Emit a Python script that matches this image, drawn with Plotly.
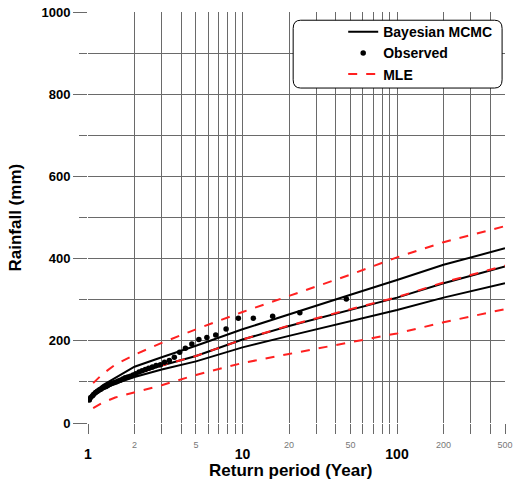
import plotly.graph_objects as go

# ---- data ----
T_line = [1.0, 1.1, 1.25, 1.5, 2, 3, 5, 10, 20, 50, 100, 200, 500]
bayes_upper = [55, 75, 92, 110, 137, 160, 188, 228, 265, 312, 348, 385, 425]
bayes_mid = [55, 70, 85, 100, 118, 140, 163, 203, 236, 276, 305, 340, 381]
bayes_lower = [55, 68, 82, 96, 112, 130, 150, 184, 212, 248, 275, 305, 340]

T_mle = [1.08, 1.25, 1.5, 2, 3, 5, 10, 20, 50, 100, 200, 500]
mle_upper = [97, 120, 142, 166, 195, 228, 270, 309, 361, 403, 440, 479]
mle_mid = [68, 85, 100, 118, 140, 163, 203, 237, 277, 306, 342, 383]
mle_lower = [36, 50, 62, 75, 92, 117, 146, 168, 196, 218, 245, 277]

T_obs = [47.0, 23.5, 15.67, 11.75, 9.4, 7.83, 6.71, 5.88, 5.22, 4.7, 4.27, 3.92,
         3.62, 3.36, 3.13, 2.94, 2.76, 2.61, 2.47, 2.35, 2.24, 2.14, 2.04, 1.96,
         1.88, 1.81, 1.74, 1.68, 1.62, 1.57, 1.52, 1.47, 1.42, 1.38, 1.34, 1.31,
         1.27, 1.24, 1.21, 1.18, 1.15, 1.12, 1.09, 1.07, 1.04, 1.02]
rain_obs = [302, 268, 260, 255, 255, 229, 214, 208, 203, 192, 182, 172,
            160, 152, 148, 142, 140, 136, 133, 130, 127, 124, 120, 117,
            114, 112, 110, 107, 104, 102, 100, 98, 96, 94, 91, 89,
            87, 85, 82, 80, 77, 74, 70, 66, 62, 56]

x_major = [1, 10, 100]
x_minor = [2, 3, 4, 5, 6, 7, 8, 9, 20, 30, 40, 50, 60, 70, 80, 90, 200, 300, 400, 500]
x_small_labels = [2, 5, 20, 50, 200, 500]
y_major = [0, 200, 400, 600, 800, 1000]

FONT = "Liberation Sans, Arial, sans-serif"
GRID = "#6a6a6a"
GW = 1.3

fig = go.Figure()
black = dict(color="black", width=2)
red = dict(color="#ff2020", width=2, dash="dash")

fig.add_trace(go.Scatter(x=T_line, y=bayes_upper, mode="lines", line=black,
                         name="<b>Bayesian MCMC</b>", legendgroup="b", showlegend=True))
fig.add_trace(go.Scatter(x=T_line, y=bayes_mid, mode="lines", line=black,
                         legendgroup="b", showlegend=False))
fig.add_trace(go.Scatter(x=T_line, y=bayes_lower, mode="lines", line=black,
                         legendgroup="b", showlegend=False))
fig.add_trace(go.Scatter(x=T_obs, y=rain_obs, mode="markers", xaxis="x2",
                         marker=dict(color="black", size=5.5), name="<b>Observed</b>"))
fig.add_trace(go.Scatter(x=T_mle, y=mle_upper, mode="lines", line=red,
                         name="<b>MLE</b>", legendgroup="m", showlegend=True))
fig.add_trace(go.Scatter(x=T_mle, y=mle_mid, mode="lines", line=red,
                         legendgroup="m", showlegend=False))
fig.add_trace(go.Scatter(x=T_mle, y=mle_lower, mode="lines", line=red,
                         legendgroup="m", showlegend=False))

fig.update_layout(
    width=513, height=483,
    margin=dict(l=88, r=8, t=12, b=60),
    paper_bgcolor="white", plot_bgcolor="white",
    font=dict(family=FONT, color="black"),
    xaxis=dict(
        type="log", range=[0, 2.69897], automargin=False,
        tickvals=x_major, ticktext=[f"<b>{v}</b>" for v in x_major],
        tickfont=dict(size=14, family=FONT, color="black"),
        ticks="outside", ticklen=10, tickcolor=GRID, tickwidth=GW,
        ticklabelstandoff=8,
        showgrid=True, gridcolor=GRID, gridwidth=GW,
        minor=dict(tickvals=x_minor, ticks="outside", ticklen=10, tickcolor=GRID,
                   tickwidth=GW, showgrid=True, gridcolor=GRID, gridwidth=GW),
        zeroline=False, showline=False,
    ),
    xaxis2=dict(
        type="log", range=[0, 2.69897], overlaying="x", anchor="y", side="bottom",
        automargin=False,
        tickvals=x_small_labels, ticktext=[str(v) for v in x_small_labels],
        tickfont=dict(size=9, family=FONT, color="#777777"),
        ticks="outside", ticklen=13, tickcolor="rgba(0,0,0,0)",
        showgrid=False, zeroline=False, showline=False,
    ),
    yaxis=dict(
        range=[0, 1000], automargin=False,
        tickvals=y_major, ticktext=[f"<b>{v}</b>" for v in y_major],
        tickfont=dict(size=13, family=FONT, color="black"),
        ticks="outside", ticklen=14, tickcolor=GRID, tickwidth=GW,
        showgrid=True, gridcolor=GRID, gridwidth=GW,
        minor=dict(dtick=100, ticks="outside", ticklen=8, tickcolor=GRID,
                   tickwidth=GW, showgrid=True, gridcolor=GRID, gridwidth=GW),
        zeroline=False, showline=False,
    ),
    legend=dict(
        x=0.612, y=0.99, xanchor="left", yanchor="top",
        bgcolor="rgba(0,0,0,0)", borderwidth=0,
        font=dict(size=14, family=FONT, color="black"),
        tracegroupgap=0,
    ),
    annotations=[
        dict(text="<b>Return period (Year)</b>", xref="paper", yref="paper",
             x=0.485, y=-0.115, xanchor="center", yanchor="middle", showarrow=False,
             font=dict(size=17, family=FONT, color="black")),
        dict(text="<b>Rainfall (mm)</b>", xref="paper", yref="paper",
             x=-0.175, y=0.5, xanchor="center", yanchor="middle", showarrow=False,
             textangle=-90, font=dict(size=17, family=FONT, color="black")),
    ],
    shapes=[dict(
        type="path", xref="paper", yref="paper", layer="above",
        path="M 0.51,0.98 L 0.975,0.98 Q 0.993,0.98 0.993,0.96 L 0.993,0.835 "
             "Q 0.993,0.815 0.975,0.815 L 0.51,0.815 Q 0.492,0.815 0.492,0.835 "
             "L 0.492,0.96 Q 0.492,0.98 0.51,0.98 Z",
        fillcolor="white", line=dict(color="black", width=1),
    )],
)

fig.write_html("out.html", config={"displayModeBar": False},
               post_script="document.body.style.margin='0px';"
                           "document.body.style.overflow='hidden';")
